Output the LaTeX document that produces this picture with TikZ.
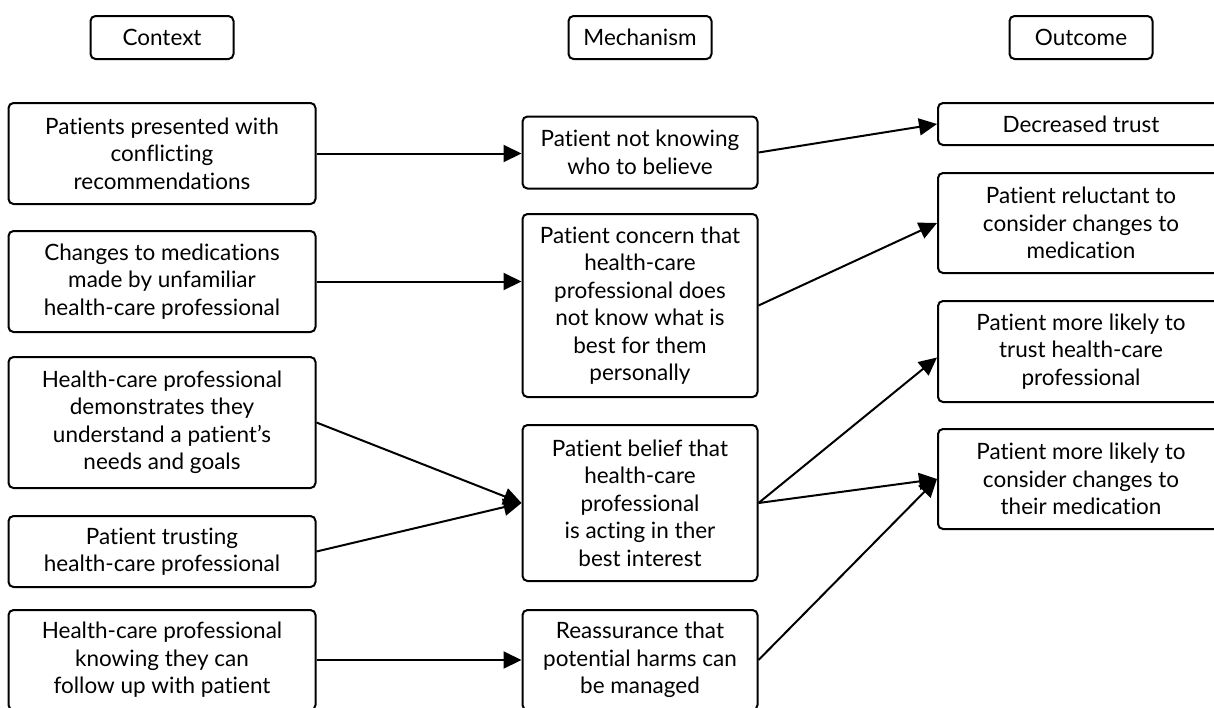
\documentclass[tikz,border=0pt]{standalone}
\usepackage{fontspec}
\setmainfont{Lato}[Ligatures=NoCommon]
\usetikzlibrary{arrows.meta}

\begin{document}
\begin{tikzpicture}[x=1pt,y=1pt,
  box/.style={draw, rounded corners=5pt, line width=2pt, align=center,
    inner sep=0pt, font=\fontsize{22.5}{27.5}\selectfont},
  head/.style={box, minimum width=143pt, minimum height=43pt},
  ctx/.style={box, minimum width=307pt},
  mech/.style={box, minimum width=235pt},
  outc/.style={box, minimum width=286pt},
  link/.style={line width=2pt, -{Triangle[length=18pt,width=17pt]}}
]
\useasboundingbox (0,0) rectangle (1214,-707);

% column headings
\node[head] (hc) at (162,-37.5)  {Context};
\node[head] (hm) at (640,-37.5)  {Mechanism};
\node[head] (ho) at (1081,-37.5) {Outcome};

% contexts
\node[ctx, minimum height=101pt] (c1) at (162,-153.5) {Patients presented with\\conflicting\\recommendations};
\node[ctx, minimum height=101pt] (c2) at (162,-281.5) {Changes to medications\\made by unfamiliar\\health-care professional};
\node[ctx, minimum height=131pt] (c3) at (162,-422.5) {Health-care professional\\demonstrates they\\understand a patient’s\\needs and goals};
\node[ctx, minimum height=71pt]  (c4) at (162,-551.5) {Patient trusting\\health-care professional};
\node[ctx, minimum height=100pt] (c5) at (162,-660)   {Health-care professional\\knowing they can\\follow up with patient};

% mechanisms
\node[mech, minimum height=72pt]  (m1) at (640,-152.5) {Patient not knowing\\who to believe};
\node[mech, minimum height=183pt] (m2) at (640,-305.5) {Patient concern that\\health-care\\professional does\\not know what is\\best for them\\personally};
\node[mech, minimum height=156pt] (m3) at (640,-503)   {Patient belief that\\health-care\\professional\\is acting in ther\\best interest};
\node[mech, minimum height=100pt] (m4) at (640,-660)   {Reassurance that\\potential harms can\\be managed};

% outcomes
\node[outc, minimum height=42pt]  (o1) at (1081,-124) {Decreased trust};
\node[outc, minimum height=100pt] (o2) at (1081,-223) {Patient reluctant to\\consider changes to\\medication};
\node[outc, minimum height=101pt] (o3) at (1081,-351.5) {Patient more likely to\\trust health-care\\professional};
\node[outc, minimum height=100pt] (o4) at (1081,-479) {Patient more likely to\\consider changes to\\their medication};

% context -> mechanism
\draw[link] (c1.east) -- (c1.east -| m1.west);
\draw[link] (c2.east) -- (c2.east -| m2.west);
\draw[link] (c3.east) -- (m3.west);
\draw[link] (c4.east) -- (m3.west);
\draw[link] (c5.east) -- (c5.east -| m4.west);

% mechanism -> outcome
\draw[link] (m1.east) -- (o1.west);
\draw[link] (m2.east) -- (o2.west);
\draw[link] (m3.east) -- ([yshift=-6pt]o3.west);
\draw[link] (m3.east) -- (o4.west);
\draw[link] (m4.east) -- (o4.west);
\end{tikzpicture}
\end{document}
